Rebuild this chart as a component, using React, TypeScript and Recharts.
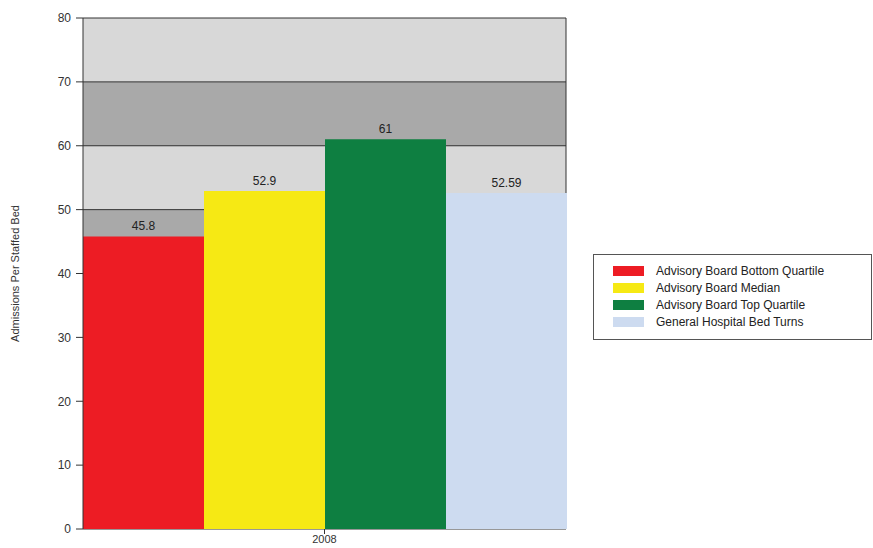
import { BarChart, Bar, XAxis, YAxis, CartesianGrid, LabelList } from "recharts";

const years = ["2008"];
const bottomQuartile = [45.8];
const median = [52.9];
const topQuartile = [61];
const bedTurns = [52.59];
const yTicks = [0, 10, 20, 30, 40, 50, 60, 70, 80];

const series = [
    { key: "bottom", name: "Advisory Board Bottom Quartile", color: "#ed1c24" },
    { key: "median", name: "Advisory Board Median", color: "#f6e914" },
    { key: "top", name: "Advisory Board Top Quartile", color: "#0e7f41" },
    { key: "turns", name: "General Hospital Bed Turns", color: "#cddbf0" },
];

const data = years.map((year, i) => ({
    year,
    bottom: bottomQuartile[i],
    median: median[i],
    top: topQuartile[i],
    turns: bedTurns[i],
}));

const FONT = "'Liberation Sans', Arial, sans-serif";

// rotated y axis title, centred on the plot height
const AxisTitle = ({ viewBox }: { viewBox?: { x: number; y: number; width: number; height: number } }) => {
    if (!viewBox) return null;
    const cy = viewBox.y + viewBox.height / 2;
    return (
        <text
            x={15}
            y={cy}
            transform={`rotate(-90, 15, ${cy})`}
            textAnchor="middle"
            dominantBaseline="central"
            fontSize={11}
            fill="#333"
            fontFamily={FONT}
        >
            Admissions Per Staffed Bed
        </text>
    );
};

const LegendBox = () => (
    <div
        style={{
            position: "absolute",
            left: 593,
            top: 254,
            border: "1px solid #555",
            width: 279,
            height: 86,
            boxSizing: "border-box",
            padding: "7px 0 0 19px",
            background: "#fff",
            fontFamily: FONT,
            fontSize: 12,
            color: "#222",
        }}
    >
        {series.map((s) => (
            <div key={s.key} style={{ display: "flex", alignItems: "center", height: 17 }}>
                <span style={{ width: 31, height: 10, background: s.color, marginRight: 12 }}></span>
                <span>{s.name}</span>
            </div>
        ))}
    </div>
);

export default function App() {
    return (
        <div style={{ position: "absolute", left: 0, top: 0, width: 873, height: 548, background: "#fff", overflow: "hidden" }}>
            <BarChart
                width={873}
                height={548}
                data={data}
                margin={{ top: 18, right: 307, left: 23, bottom: 0 }}
                barCategoryGap={0}
                barGap={0}
            >
                <CartesianGrid
                    stroke="#333"
                    strokeWidth={1}
                    horizontalFill={["#d8d8d8", "#a9a9a9"]}
                    fillOpacity={1}
                    verticalCoordinatesGenerator={({ offset }: any) => [offset.left + offset.width]}
                />
                <XAxis
                    dataKey="year"
                    axisLine={false}
                    tickSize={5}
                    tickMargin={1}
                    height={19}
                    tick={{ fontSize: 11, fill: "#333", fontFamily: FONT }}
                    tickLine={{ stroke: "#333" }}
                />
                <YAxis
                    domain={[0, 80]}
                    ticks={yTicks}
                    width={60}
                    interval={0}
                    tickSize={7}
                    tickMargin={5}
                    axisLine={{ stroke: "#333" }}
                    tickLine={{ stroke: "#333" }}
                    tick={{ fontSize: 12, fill: "#333", fontFamily: FONT }}
                    label={<AxisTitle />}
                />
                {series.map((s) => (
                    <Bar key={s.key} dataKey={s.key} name={s.name} fill={s.color} isAnimationActive={false}>
                        <LabelList
                            dataKey={s.key}
                            position="top"
                            offset={6}
                            fontSize={12}
                            fill="#222"
                            fontFamily={FONT}
                        />
                    </Bar>
                ))}
            </BarChart>
            <LegendBox />
        </div>
    );
}
